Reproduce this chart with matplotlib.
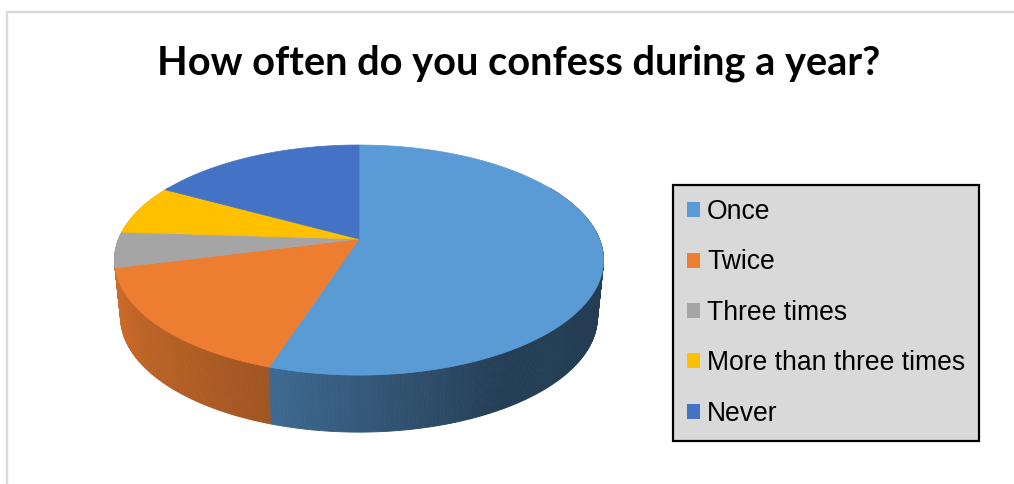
import numpy as np
import matplotlib
matplotlib.use("Agg")
import matplotlib.pyplot as plt
from matplotlib.patches import Polygon, Patch

# Survey answers (share of respondents, %)
categories = ["Once", "Twice", "Three times", "More than three times", "Never"]
shares = [55, 16, 5, 7, 17]
colors = ["#5B9BD5", "#ED7D31", "#A5A5A5", "#FFC000", "#4472C4"]
title = "How often do you confess during a year?"

W, H = 1014, 484
fig = plt.figure(figsize=(W / 100, H / 100), dpi=100)
ax = fig.add_axes([0, 0, 1, 1])
ax.set_xlim(0, W)
ax.set_ylim(H, 0)
ax.axis("off")

# chart area outline
ax.plot([6.5, 6.5, W], [H, 11.5, 11.5], color="#d9d9d9", lw=1.6,
        solid_joinstyle="miter", zorder=0)

# ---- 3-D pie, drawn in pixel space with a simple perspective tilt ----
CX, CY = 359, 239          # pie centre on the top face
RX, RY = 240.4, 111.2      # radii of the tilted disc
PERSP = 0.183              # far side appears smaller
DEPTH = 57                 # thickness of the pie
BOTTOM_SCALE = 0.975


def rim(a_deg, bottom=False):
    a = np.radians(a_deg)
    u, w = np.sin(a), np.cos(a)
    d = 1 + PERSP * w
    sx = BOTTOM_SCALE if bottom else 1.0
    x = CX + sx * RX * u / d
    y = CY - RY * w / d + (DEPTH if bottom else 0)
    return x, y


def shade(a_deg):
    return np.interp(a_deg, [90, 150, 198, 254, 275], [0.39, 0.40, 0.68, 0.87, 0.9])


total = float(sum(shares))
bounds = np.concatenate([[0], np.cumsum(shares) / total * 360.0])

# side walls, back to front
strips = []
for i, col in enumerate(colors):
    a0, a1 = bounds[i], bounds[i + 1]
    lo, hi = max(a0, 60), min(a1, 300)
    if hi <= lo:
        continue
    n = max(2, int((hi - lo) / 0.5))
    edges = np.linspace(lo, hi, n + 1)
    base = np.array(matplotlib.colors.to_rgb(col))
    for e0, e1 in zip(edges[:-1], edges[1:]):
        am = 0.5 * (e0 + e1)
        xt0, yt0 = rim(e0)
        xt1, yt1 = rim(e1)
        xb0, yb0 = rim(e0, True)
        xb1, yb1 = rim(e1, True)
        c = np.clip(base * shade(am), 0, 1)
        strips.append((np.cos(np.radians(am)),
                       [(xt0, yt0), (xt1, yt1), (xb1, yb1), (xb0, yb0)], c))

strips.sort(key=lambda s: -s[0])
for _, pts, c in strips:
    ax.add_patch(Polygon(pts, closed=True, facecolor=c, edgecolor=c, lw=0.6, zorder=2))

# top faces
for i, col in enumerate(colors):
    a0, a1 = bounds[i], bounds[i + 1]
    arc = np.linspace(a0, a1, max(3, int((a1 - a0) * 2)))
    xs, ys = rim(arc)
    pts = [(CX, CY)] + list(zip(xs, ys))
    ax.add_patch(Polygon(pts, closed=True, facecolor=col, edgecolor=col, lw=0.5, zorder=3))

# title
fig.text(519 / W, 1 - 63 / H, title, ha="center", va="center",
         fontsize=28.6, fontweight="bold", family=["Lato", "DejaVu Sans"], color="black")

# legend
handles = [Patch(facecolor=c, edgecolor="none") for c in colors]
leg = ax.legend(handles, categories, loc="upper left",
                bbox_to_anchor=(673 / W, 1 - 185 / H), bbox_transform=fig.transFigure,
                frameon=True, fancybox=False, facecolor="#d9d9d9", edgecolor="black",
                framealpha=1, borderaxespad=0, borderpad=0.53,
                prop={"family": ["Liberation Sans", "DejaVu Sans"], "size": 19.1},
                handlelength=0.49, handleheight=0.49, handletextpad=0.26,
                labelspacing=0.92)
leg.get_frame().set_linewidth(1.6)
leg.set_zorder(5)

fig.savefig("out.png", dpi=100, facecolor="white")
